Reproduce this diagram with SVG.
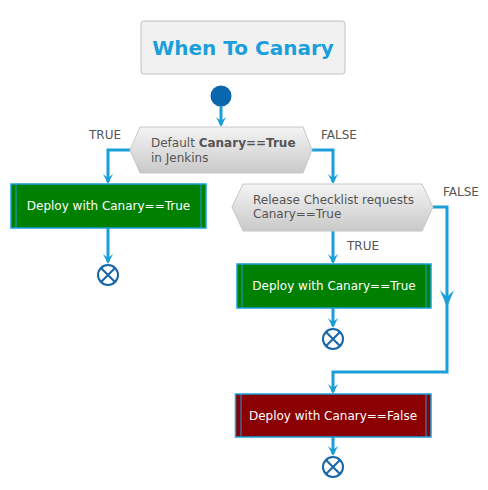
<svg xmlns="http://www.w3.org/2000/svg" width="488" height="490" viewBox="0 0 488 490">
<style>
text{font-family:"DejaVu Sans","Liberation Sans",sans-serif}
.t{font-size:20px;font-weight:bold;fill:#1a9fdb}
.d{font-size:12px;fill:#555555}
.l{font-size:12px;fill:#555555}
.b{font-size:12px;fill:#ffffff}
.ln{fill:none;stroke:#1a9fdb;stroke-width:3}
.ah{fill:#1a9fdb;stroke:none}
.box{stroke:#1a9fdb;stroke-width:1.5}
.in{stroke:#1a9fdb;stroke-width:1}
.hex{fill:url(#g);stroke:#c8c8c8;stroke-width:1}
.end{fill:#ffffff;stroke:#1565a8;stroke-width:2}
</style>
<defs>
<linearGradient id="g" x1="0" y1="0" x2="0" y2="1">
<stop offset="0" stop-color="#f4f4f4"/>
<stop offset="1" stop-color="#c9c9c9"/>
</linearGradient>
<marker id="a" viewBox="0 0 10 10" refX="5" refY="10" markerWidth="10" markerHeight="10" markerUnits="userSpaceOnUse" orient="auto"/>
</defs>
<g id="title">
<rect x="141" y="21" width="204" height="53" rx="3" fill="#f1f1f1" stroke="#c0c0c0" stroke-width="1"/>
<text class="t" x="243" y="55" text-anchor="middle">When To Canary</text>
</g>
<g id="start"><circle cx="221" cy="96" r="10.5" fill="#0b67ad"/></g>
<g id="connectors">
<path class="ln" d="M221,106 V125"/>
<path class="ah" d="M216,117 L221,127 L226,117 L221,121 Z"/>
<path class="ln" d="M130,150 H108 V182"/>
<path class="ah" d="M103,174 L108,184 L113,174 L108,178 Z"/>
<path class="ln" d="M108,228 V262"/>
<path class="ah" d="M103,254 L108,264 L113,254 L108,258 Z"/>
<path class="ln" d="M312,150 H333 V182"/>
<path class="ah" d="M328,174 L333,184 L338,174 L333,178 Z"/>
<path class="ln" d="M333,231 V262"/>
<path class="ah" d="M328,254 L333,264 L338,254 L333,258 Z"/>
<path class="ln" d="M333,308 V326"/>
<path class="ah" d="M328,318 L333,328 L338,318 L333,322 Z"/>
<path class="ln" d="M433,207 H447 V372 H333 V392"/>
<path class="ah" d="M440,290 L447,307 L454,290 L447,297 Z"/>
<path class="ah" d="M328,384 L333,394 L338,384 L333,388 Z"/>
<path class="ln" d="M333,437 V454"/>
<path class="ah" d="M328,446 L333,456 L338,446 L333,450 Z"/>
</g>
<g id="decision1">
<polygon class="hex" points="130,150 140,127 303,127 312,150 303,173 140,173"/>
<text class="d" x="151" y="147">Default <tspan font-weight="bold">Canary==True</tspan></text>
<text class="d" x="151" y="162">in Jenkins</text>
<text class="l" x="89" y="139">TRUE</text>
<text class="l" x="321" y="139">FALSE</text>
</g>
<g id="deploy1">
<rect class="box" x="11" y="184" width="195" height="44" fill="#008000"/>
<line class="in" x1="16" y1="184" x2="16" y2="228"/>
<line class="in" x1="201" y1="184" x2="201" y2="228"/>
<text class="b" x="108.5" y="210" text-anchor="middle">Deploy with Canary==True</text>
</g>
<g id="end1">
<circle class="end" cx="108" cy="275" r="10"/>
<path class="end" d="M101,268 L115,282 M115,268 L101,282"/>
</g>
<g id="decision2">
<polygon class="hex" points="232,207 243,184 422,184 433,207 422,231 243,231"/>
<text class="d" x="253" y="204">Release Checklist requests</text>
<text class="d" x="253" y="218">Canary==True</text>
<text class="l" x="443" y="196">FALSE</text>
<text class="l" x="347" y="250">TRUE</text>
</g>
<g id="deploy2">
<rect class="box" x="237" y="264" width="194" height="44" fill="#008000"/>
<line class="in" x1="242" y1="264" x2="242" y2="308"/>
<line class="in" x1="426" y1="264" x2="426" y2="308"/>
<text class="b" x="334" y="290" text-anchor="middle">Deploy with Canary==True</text>
</g>
<g id="end2">
<circle class="end" cx="333" cy="339" r="10"/>
<path class="end" d="M326,332 L340,346 M340,332 L326,346"/>
</g>
<g id="deploy3">
<rect class="box" x="235.5" y="394" width="195.5" height="43" fill="#8b0000"/>
<line class="in" x1="241" y1="394" x2="241" y2="437"/>
<line class="in" x1="426" y1="394" x2="426" y2="437"/>
<text class="b" x="333" y="420" text-anchor="middle">Deploy with Canary==False</text>
</g>
<g id="end3">
<circle class="end" cx="333" cy="467" r="10"/>
<path class="end" d="M326,460 L340,474 M340,460 L326,474"/>
</g>
</svg>
